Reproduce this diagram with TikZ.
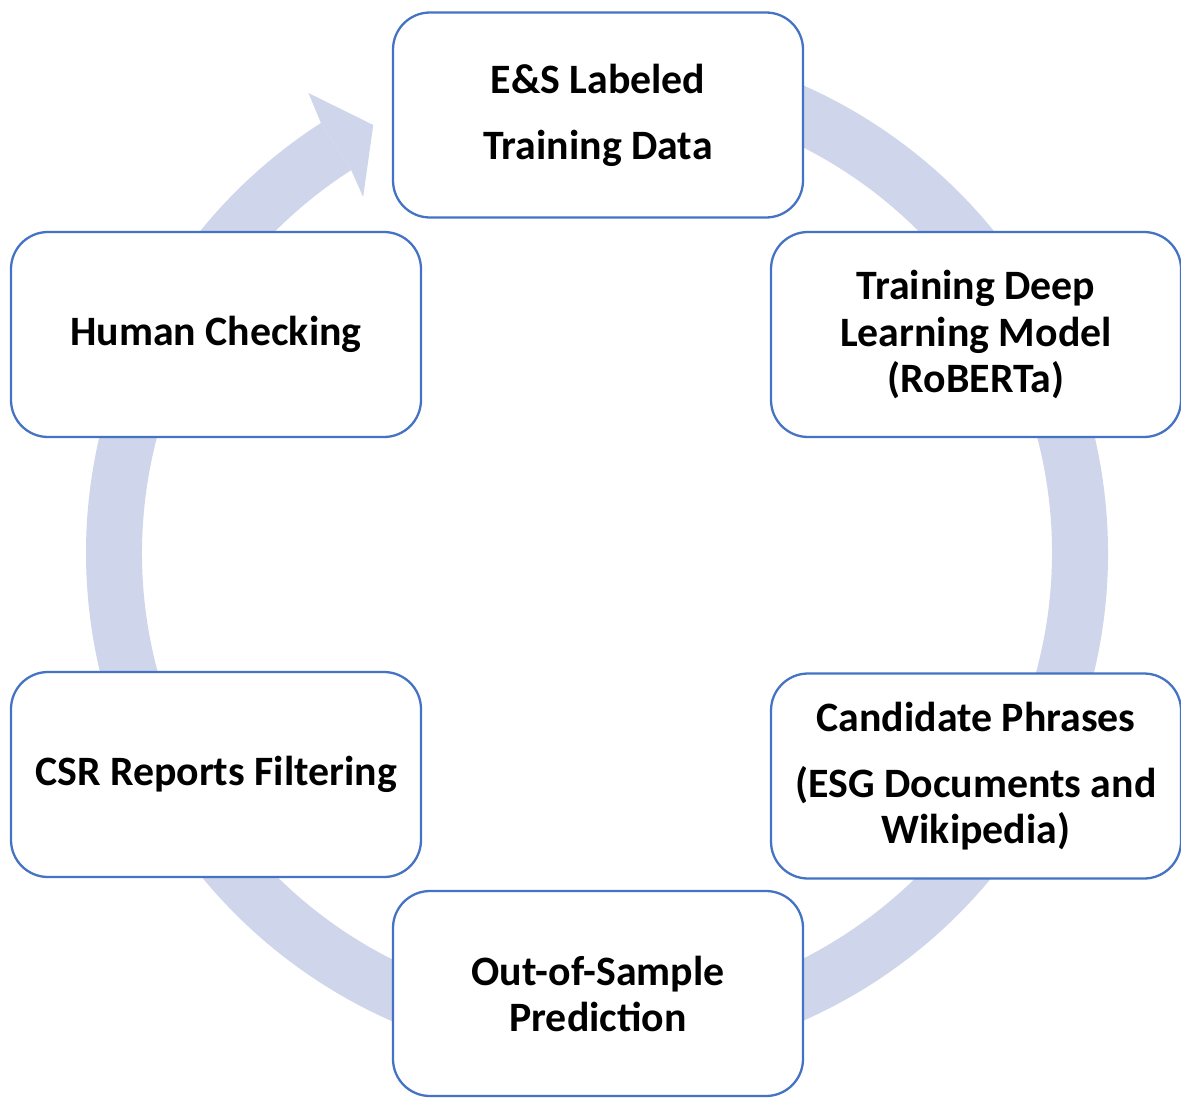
\documentclass[tikz,border=0pt]{standalone}
\usepackage{fontspec}
\setmainfont{Carlito}
\usepackage{tikz}
\usetikzlibrary{arrows.meta,positioning}

\definecolor{boxblue}{HTML}{4472C4}
\definecolor{ringfill}{HTML}{CFD5EA}

\begin{document}
\begin{tikzpicture}[
    every node/.style={font=\fontsize{11.9}{13.1}\selectfont\bfseries},
    stage/.style={rectangle, rounded corners=0.37cm, draw=boxblue, line width=0.65pt,
                  fill=white, minimum width=4.1cm, minimum height=2.05cm,
                  align=center, inner sep=2pt},
    ring/.style={fill=ringfill, draw=none},
  ]
  \useasboundingbox (0,0) rectangle (11.81,-10.97);
  % cycle ring with its arrow head
  \begin{scope}[shift={(5.97,-5.53)}]
    \fill[ring] (95:5.11) arc[start angle=95, end angle=-237.3, radius=5.11]
      -- (122.7:4.55) arc[start angle=-237.3, end angle=95, radius=4.55] -- cycle;
    \fill[ring] (122.7:5.11) -- (122.1:5.43) -- (117.6:4.83) -- (123.3:4.26)
      -- (122.7:4.55) -- cycle;
  \end{scope}
  % stages
  \node[stage] (data) at (5.98, -1.15) {E\&S Labeled\\[5.7pt]Training Data};
  \node[stage] (train) at (9.76, -3.345) {Training Deep\\Learning Model\\(RoBERTa)};
  \node[stage] (cand) at (9.76, -7.76) {Candidate Phrases\\[5.7pt](ESG Documents and\\Wikipedia)};
  \node[stage] (pred) at (5.98, -9.935) {Out-of-Sample\\Prediction};
  \node[stage] (csr) at (2.16, -7.745) {CSR Reports Filtering};
  \node[stage] (human) at (2.16, -3.345) {Human Checking};
\end{tikzpicture}
\end{document}
